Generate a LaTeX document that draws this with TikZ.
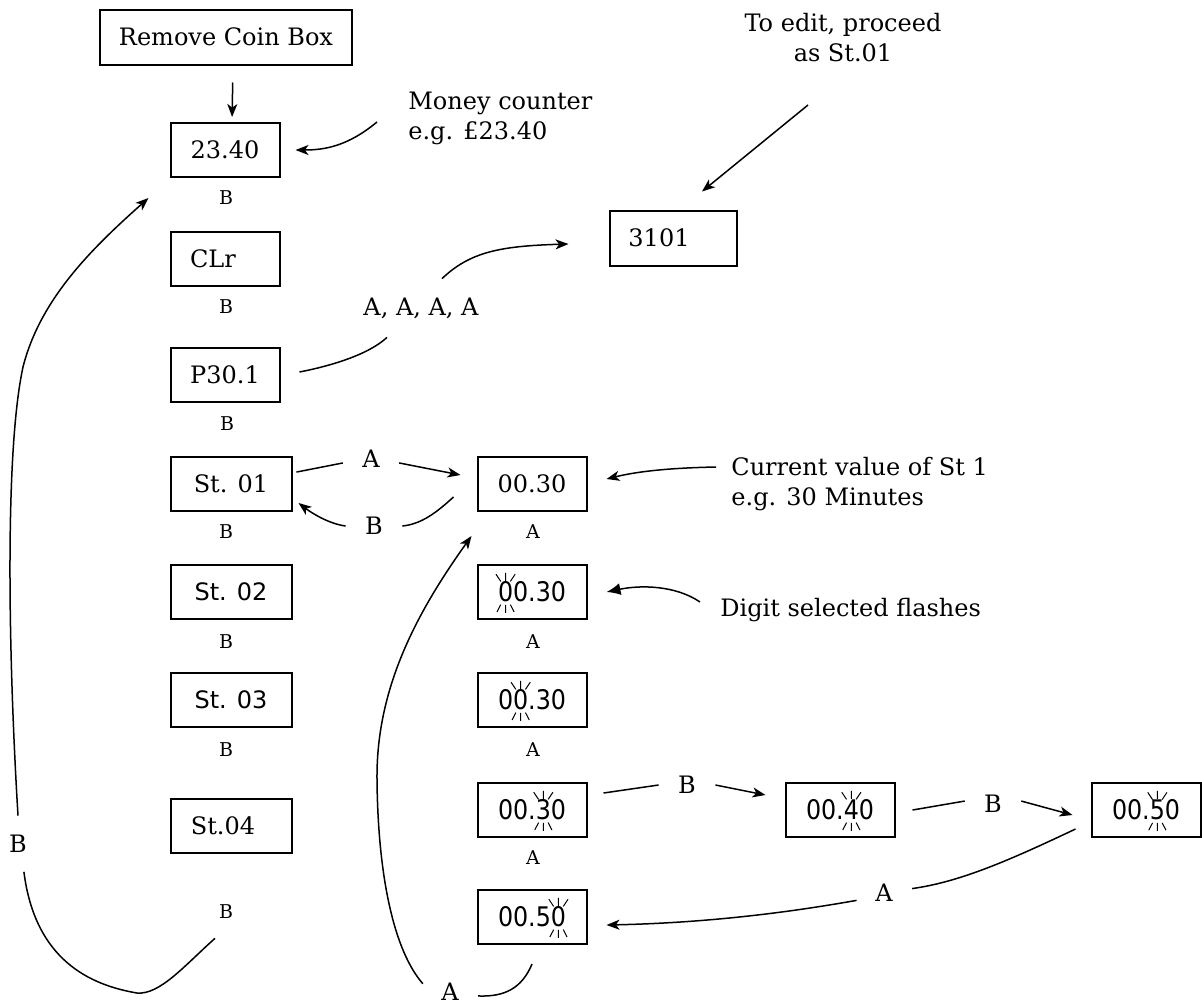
\documentclass[tikz,border=0pt]{standalone}
\usepackage{fontspec}
\setmainfont{DejaVu Serif}
\newfontfamily\sansf{DejaVu Sans}
\newfontfamily\flashf[FakeStretch=0.88]{DejaVu Sans}
\usetikzlibrary{arrows.meta}

\newcommand{\flashdigit}[1]{%
  \tikz[baseline=(fd.base),x=1pt,y=1pt]{%
    \node[inner sep=0pt,outer sep=0pt,draw=none,minimum size=0pt] (fd) {#1};
    \begin{scope}[overlay,line width=0.5pt,shift={(fd.center)}]
      \draw (0,5.6) -- (0,9.6) (-2.4,5.3) -- (-4.8,8.9) (2.4,5.3) -- (4.8,8.9)
            (0,-6.4) -- (0,-10.4) (-2.4,-6.3) -- (-4.3,-10) (2.4,-6.3) -- (4.3,-10);
    \end{scope}}}

\begin{document}
\begin{tikzpicture}[x=0.5pt,y=-0.5pt,
  box/.style={draw, line width=1pt, minimum width=54.5pt, minimum height=27pt, inner sep=2pt, font=\fontsize{12}{14}\selectfont},
  widebox/.style={box, minimum width=60.5pt},
  flashbox/.style={box, font=\flashf\fontsize{13.5}{16}\selectfont},
  key/.style={inner sep=1pt, font=\fontsize{9.5}{11}\selectfont},
  lab/.style={circle, minimum size=28pt, inner sep=0pt, font=\fontsize{12}{14}\selectfont},
  note/.style={inner sep=0pt, font=\fontsize{12}{15}\selectfont},
  line/.style={line width=0.75pt},
  arr/.style={line, -{Stealth[length=6.5pt,width=5pt,inset=1.8pt]}}]
\useasboundingbox (0,0) rectangle (1202,1007);

% display boxes
\path
(226,37) node[box, minimum width=126pt, minimum height=27.5pt] (rcb) {Remove Coin Box}
(225,150) node[box] (c2340) {23.40}
(225,259) node[box] (clr) {CLr\hspace*{12pt}}
(225,375) node[box] (p301) {P30.1}
(231,484) node[widebox] (st01) {St. 01}
(231,592) node[widebox, font=\sansf\fontsize{12}{14}\selectfont] (st02) {St. 02}
(231,700) node[widebox, font=\sansf\fontsize{12}{14}\selectfont] (st03) {St. 03}
(231,826) node[widebox] (st04) {St.04\hspace*{8pt}}
(673,238) node[box, minimum width=63.5pt, minimum height=27.5pt] (c3101) {3101\hspace*{14pt}}
(532,484) node[box] (v0030) {00.30}
(532,592) node[flashbox] (f1) {\flashdigit{0}0.30}
(532,700) node[flashbox] (f2) {0\flashdigit{0}.30}
(532,810) node[flashbox] (f3) {00.\flashdigit{3}0}
(532,917) node[flashbox] (f50) {00.5\flashdigit{0}}
(840,810) node[flashbox] (v40) {00.\flashdigit{4}0}
(1146,810) node[flashbox] (v50) {00.\flashdigit{5}0};

% key presses under the boxes
\path
(226,198) node[key] (k2340) {B}
(226,307) node[key] (kclr) {B}
(227,424) node[key] (kp301) {B}
(226,532) node[key] (kst01) {B}
(226,642) node[key] (kst02) {B}
(226,750) node[key] (kst03) {B}
(226,912) node[key] (kst04) {B}
(533,532) node[key] (kv0030) {A}
(533,642) node[key] (kf1) {A}
(533,750) node[key] (kf2) {A}
(533,858) node[key] (kf3) {A};

% labels on the connectors
\path
(421,308) node[minimum height=29pt, inner sep=0pt, font=\fontsize{12}{14}\selectfont] (aaaa) {A, A, A, A}
(371,459) node[lab] (la1) {A}
(374,526) node[lab] (lb1) {B}
(687,785) node[lab] (lB1) {B}
(993,804) node[lab] (lB2) {B}
(884,893) node[lab] (lAr) {A}
(450,992) node[lab] (lAb) {A}
(18,844) node[lab] (lbig) {B};

% notes
\path
(408,118) node[note, anchor=west, align=left] (money) {Money counter\\e.g. £23.40}
(843,38) node[note, align=center] (edit) {To edit, proceed\\as St.01}
(731,484) node[note, anchor=west, align=left] (current) {Current value of St 1\\e.g. 30 Minutes}
(720,610) node[note, anchor=west] (digit) {Digit selected flashes};
\coordinate (moneytail) at (377,122);
\coordinate (edittail) at (808,105);
\coordinate (curtail) at (716,467);
\coordinate (digtail) at (700,602);

% connectors
\draw[arr, shorten <=8.5pt, shorten >=2.5pt] ([xshift=3.5pt]rcb.south) -- ([xshift=3.5pt]c2340.north);
\draw[arr] (moneytail) .. controls (348,146) and (325,150) .. ([xshift=7.5pt]c2340.east);
\draw[arr] (edittail) -- ([xshift=14.5pt,yshift=9pt]c3101.north);
\draw[line] ([xshift=9.5pt,yshift=1.5pt]p301.east) .. controls (330,366) and (368,355) .. ([xshift=-17pt]aaaa.south);
\draw[arr] ([xshift=10.5pt]aaaa.north) .. controls (470,252) and (500,246) .. ([xshift=-20pt,yshift=-3pt]c3101.west);

\draw[line] ([xshift=2pt]st01.11) -- (la1.188);
\draw[arr] (la1.352) -- ([xshift=-8pt,yshift=4.5pt]v0030.west);
\draw[line] ([xshift=-11.5pt,yshift=-6.5pt]v0030.west) .. controls (437,512) and (422,524) .. (lb1.0);
\draw[arr] (lb1.180) .. controls (330,524) and (313,514) .. ([xshift=3pt,yshift=-9.5pt]st01.east);

\draw[arr] (curtail) .. controls (665,468) and (635,472) .. ([xshift=9.5pt,yshift=2.5pt]v0030.east);
\draw[line, -{Latex[length=7pt,width=6pt]}] (digtail) .. controls (675,585) and (640,585) .. ([xshift=9.5pt]f1.east);

\draw[line] ([xshift=8pt,yshift=8.5pt]f3.east) -- (lB1.180);
\draw[arr] (lB1.0) -- ([xshift=-9.5pt,yshift=7.5pt]v40.west);
\draw[line] ([xshift=8.5pt]v40.east) -- (lB2.174);
\draw[arr] (lB2.6) -- ([xshift=-9pt,yshift=-2.5pt]v50.west);

\draw[line] ([xshift=-7.5pt,yshift=4.5pt]v50.south west) .. controls (1010,860) and (960,882) .. (lAr.9);
\draw[arr] (lAr.195) .. controls (780,914) and (700,923) .. ([xshift=9.5pt,yshift=-4pt]f50.east);

\draw[line] ([yshift=-9.5pt]f50.south) .. controls (522,988) and (505,997) .. (lAb.-8);
\draw[arr] (lAb.163) .. controls (395,952) and (378,880) .. (377,780) .. controls (376,690) and (415,615) .. ([xshift=-2.5pt,yshift=-12pt]v0030.south west);

\draw[line] ([xshift=-5.5pt,yshift=-8.5pt]kst04.south) .. controls (185,965) and (160,995) .. (137,993) .. controls (90,985) and (35,960) .. (lbig.282);
\draw[arr] (lbig.90) .. controls (8,650) and (5,450) .. (23,367) .. controls (40,300) and (90,250) .. ([xshift=-10.5pt,yshift=-10pt]c2340.south west);
\end{tikzpicture}
\end{document}
